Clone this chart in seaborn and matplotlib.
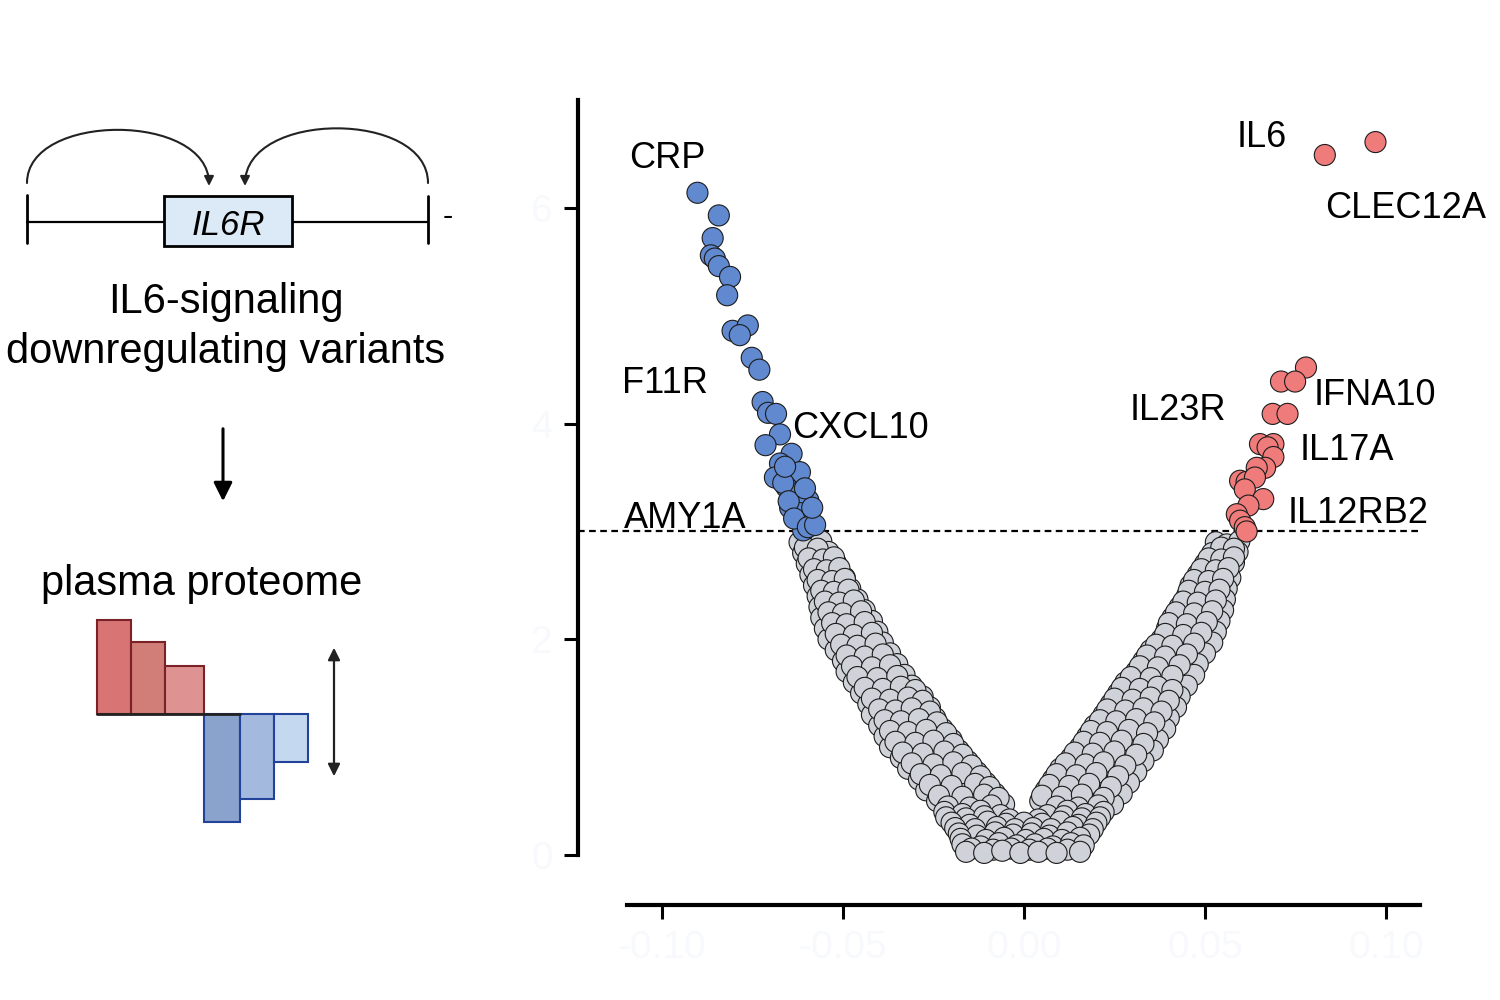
import numpy as np
import pandas as pd
import matplotlib
matplotlib.use("Agg")
import matplotlib.pyplot as plt
from matplotlib.patches import Rectangle, FancyArrowPatch
from matplotlib.path import Path
import seaborn as sns

# --- values (beta, -log10 p) ---
crp_side = [  # significant, negative effect
    (-0.0902, 6.14), (-0.0843, 5.93), (-0.0860, 5.72), (-0.0865, 5.56),
    (-0.0854, 5.53), (-0.0843, 5.46), (-0.0812, 5.36), (-0.0820, 5.19),
    (-0.0805, 4.86), (-0.0763, 4.91), (-0.0785, 4.82), (-0.0752, 4.61),
    (-0.0731, 4.50), (-0.0722, 4.20), (-0.0707, 4.10), (-0.0685, 4.09),
    (-0.0674, 3.90), (-0.0714, 3.80), (-0.0642, 3.72), (-0.0674, 3.63),
    (-0.0619, 3.55), (-0.0688, 3.50), (-0.0656, 3.41), (-0.0637, 3.35),
    (-0.0596, 3.29), (-0.0646, 3.22), (-0.0619, 3.17), (-0.0591, 3.10),
    (-0.0610, 3.01), (-0.0665, 3.45), (-0.0650, 3.28), (-0.0635, 3.12),
    (-0.0605, 3.40), (-0.0660, 3.60), (-0.0597, 3.04), (-0.0577, 3.06),
    (-0.0585, 3.22),
]
il6_side = [  # significant, positive effect
    (0.0831, 6.49), (0.0971, 6.61), (0.0779, 4.52), (0.0710, 4.39),
    (0.0749, 4.39), (0.0687, 4.09), (0.0728, 4.09), (0.0652, 3.81),
    (0.0689, 3.81), (0.0673, 3.78), (0.0689, 3.69), (0.0666, 3.59),
    (0.0643, 3.59), (0.0597, 3.47), (0.0615, 3.46), (0.0638, 3.50),
    (0.0610, 3.39), (0.0661, 3.30), (0.0620, 3.24), (0.0588, 3.16),
    (0.0597, 3.10), (0.0610, 3.04), (0.0615, 3.00),
]
grey_left = [
    (-0.062, 2.90), (-0.059, 2.88), (-0.056, 2.91),
    (-0.061, 2.80), (-0.0575, 2.78), (-0.054, 2.81),
    (-0.060, 2.70), (-0.056, 2.68), (-0.052, 2.71),
    (-0.059, 2.60), (-0.0555, 2.58), (-0.052, 2.61), (-0.0495, 2.57),
    (-0.058, 2.50), (-0.0545, 2.48), (-0.051, 2.51), (-0.048, 2.47),
    (-0.057, 2.40), (-0.0535, 2.38), (-0.0495, 2.41), (-0.046, 2.37),
    (-0.0565, 2.30), (-0.053, 2.28), (-0.0485, 2.31), (-0.044, 2.27),
    (-0.056, 2.20), (-0.052, 2.18), (-0.047, 2.21), (-0.042, 2.17),
    (-0.055, 2.10), (-0.051, 2.08), (-0.0455, 2.11), (-0.0405, 2.07),
    (-0.054, 2.00), (-0.050, 1.98), (-0.0445, 2.01), (-0.039, 1.97),
    (-0.052, 1.90), (-0.048, 1.88), (-0.0425, 1.91), (-0.037, 1.87),
    (-0.050, 1.80), (-0.046, 1.78), (-0.0405, 1.81), (-0.035, 1.77),
    (-0.049, 1.70), (-0.045, 1.68), (-0.039, 1.71), (-0.033, 1.67),
    (-0.047, 1.60), (-0.043, 1.58), (-0.037, 1.61), (-0.031, 1.57),
    (-0.045, 1.50), (-0.041, 1.48), (-0.0365, 1.51), (-0.032, 1.49), (-0.028, 1.47),
    (-0.043, 1.40), (-0.039, 1.38), (-0.0345, 1.41), (-0.030, 1.39), (-0.026, 1.37),
    (-0.042, 1.30), (-0.038, 1.28), (-0.033, 1.31), (-0.0285, 1.29), (-0.0245, 1.27),
    (-0.040, 1.20), (-0.036, 1.18), (-0.031, 1.21), (-0.026, 1.19), (-0.0225, 1.17),
    (-0.0385, 1.10), (-0.034, 1.08), (-0.029, 1.11), (-0.024, 1.09), (-0.020, 1.07),
    (-0.037, 1.00), (-0.032, 0.98), (-0.0265, 1.01), (-0.022, 0.99), (-0.018, 0.97),
    (-0.034, 0.90), (-0.029, 0.88), (-0.024, 0.91), (-0.019, 0.89), (-0.0155, 0.87),
    (-0.032, 0.80), (-0.027, 0.78), (-0.021, 0.81), (-0.0165, 0.79), (-0.013, 0.77),
    (-0.029, 0.70), (-0.024, 0.68), (-0.019, 0.71), (-0.0145, 0.69), (-0.0105, 0.67),
    (-0.027, 0.60), (-0.022, 0.58), (-0.016, 0.61), (-0.0115, 0.59), (-0.008, 0.57),
    (-0.024, 0.50), (-0.019, 0.48), (-0.0135, 0.51), (-0.009, 0.49), (-0.0055, 0.47),
]
grey_left_mid = [
    (-0.0605, 2.85), (-0.057, 2.84),
    (-0.0595, 2.75), (-0.0555, 2.74), (-0.0525, 2.76),
    (-0.058, 2.65), (-0.0545, 2.64), (-0.051, 2.66),
    (-0.057, 2.55), (-0.053, 2.54), (-0.0495, 2.56),
    (-0.056, 2.45), (-0.0525, 2.44), (-0.0485, 2.46),
    (-0.055, 2.35), (-0.051, 2.34), (-0.047, 2.36),
    (-0.054, 2.25), (-0.050, 2.24), (-0.045, 2.26),
    (-0.053, 2.15), (-0.049, 2.14), (-0.044, 2.16),
    (-0.052, 2.05), (-0.047, 2.04), (-0.042, 2.06),
    (-0.0505, 1.95), (-0.046, 1.94), (-0.041, 1.96),
    (-0.049, 1.85), (-0.044, 1.84), (-0.039, 1.86),
    (-0.0475, 1.75), (-0.042, 1.74), (-0.037, 1.76),
    (-0.046, 1.65), (-0.0405, 1.64), (-0.035, 1.66),
    (-0.044, 1.55), (-0.039, 1.54), (-0.034, 1.56), (-0.030, 1.53),
    (-0.042, 1.45), (-0.037, 1.44), (-0.032, 1.46), (-0.028, 1.43),
    (-0.040, 1.35), (-0.0355, 1.34), (-0.031, 1.36), (-0.026, 1.33),
    (-0.0385, 1.25), (-0.034, 1.24), (-0.029, 1.26), (-0.024, 1.23),
    (-0.037, 1.15), (-0.032, 1.14), (-0.027, 1.16), (-0.0215, 1.13),
    (-0.0355, 1.05), (-0.030, 1.04), (-0.025, 1.06), (-0.0195, 1.03),
    (-0.0335, 0.95), (-0.028, 0.94), (-0.022, 0.96), (-0.017, 0.93),
    (-0.031, 0.85), (-0.025, 0.84), (-0.0195, 0.86), (-0.0145, 0.83),
    (-0.0285, 0.75), (-0.023, 0.74), (-0.017, 0.76), (-0.012, 0.73),
    (-0.026, 0.65), (-0.020, 0.64), (-0.0135, 0.66), (-0.0095, 0.63),
    (-0.0235, 0.55), (-0.017, 0.54), (-0.011, 0.56), (-0.007, 0.53),
    (-0.021, 0.45), (-0.015, 0.44), (-0.009, 0.46),
]
grey_right = [
    (0.053, 2.90), (0.056, 2.88), (0.0595, 2.91),
    (0.052, 2.80), (0.0555, 2.78), (0.059, 2.81),
    (0.050, 2.70), (0.054, 2.68), (0.058, 2.71),
    (0.048, 2.60), (0.0515, 2.58), (0.0545, 2.61), (0.057, 2.57),
    (0.046, 2.50), (0.0495, 2.48), (0.053, 2.51), (0.056, 2.47),
    (0.045, 2.40), (0.0485, 2.38), (0.052, 2.41), (0.0555, 2.37),
    (0.043, 2.30), (0.047, 2.28), (0.051, 2.31), (0.055, 2.27),
    (0.041, 2.20), (0.0455, 2.18), (0.050, 2.21), (0.054, 2.17),
    (0.0395, 2.10), (0.044, 2.08), (0.0485, 2.11), (0.053, 2.07),
    (0.038, 2.00), (0.0425, 1.98), (0.047, 2.01), (0.052, 1.97),
    (0.035, 1.90), (0.040, 1.88), (0.045, 1.91), (0.050, 1.87),
    (0.033, 1.80), (0.038, 1.78), (0.043, 1.81), (0.048, 1.77),
    (0.031, 1.70), (0.036, 1.68), (0.0415, 1.71), (0.047, 1.67),
    (0.028, 1.60), (0.0335, 1.58), (0.039, 1.61), (0.045, 1.57),
    (0.026, 1.50), (0.030, 1.48), (0.0345, 1.51), (0.039, 1.49), (0.043, 1.47),
    (0.024, 1.40), (0.0285, 1.38), (0.033, 1.41), (0.037, 1.39), (0.042, 1.37),
    (0.022, 1.30), (0.026, 1.28), (0.030, 1.31), (0.035, 1.29), (0.040, 1.27),
    (0.0195, 1.20), (0.024, 1.18), (0.028, 1.21), (0.0335, 1.19), (0.039, 1.17),
    (0.0175, 1.10), (0.022, 1.08), (0.026, 1.11), (0.0315, 1.09), (0.037, 1.07),
    (0.0155, 1.00), (0.020, 0.98), (0.024, 1.01), (0.030, 0.99), (0.0356, 0.97),
    (0.013, 0.90), (0.0175, 0.88), (0.0215, 0.91), (0.027, 0.89), (0.033, 0.87),
    (0.010, 0.80), (0.0145, 0.78), (0.019, 0.81), (0.025, 0.79), (0.031, 0.77),
    (0.008, 0.70), (0.012, 0.68), (0.017, 0.71), (0.023, 0.69), (0.029, 0.67),
    (0.006, 0.60), (0.010, 0.58), (0.015, 0.61), (0.021, 0.59), (0.027, 0.57),
    (0.0045, 0.50), (0.0085, 0.48), (0.013, 0.51), (0.019, 0.49), (0.0246, 0.47),
]
grey_right_mid = [
    (0.0545, 2.85), (0.058, 2.84),
    (0.051, 2.75), (0.0545, 2.74), (0.058, 2.76),
    (0.049, 2.65), (0.053, 2.64), (0.0565, 2.66),
    (0.047, 2.55), (0.051, 2.54), (0.055, 2.56),
    (0.0455, 2.45), (0.050, 2.44), (0.054, 2.46),
    (0.044, 2.35), (0.048, 2.34), (0.053, 2.36),
    (0.042, 2.25), (0.047, 2.24), (0.052, 2.26),
    (0.040, 2.15), (0.045, 2.14), (0.0505, 2.16),
    (0.039, 2.05), (0.044, 2.04), (0.049, 2.06),
    (0.0365, 1.95), (0.041, 1.94), (0.047, 1.96),
    (0.034, 1.85), (0.039, 1.84), (0.045, 1.86),
    (0.032, 1.75), (0.037, 1.74), (0.043, 1.76),
    (0.0295, 1.65), (0.035, 1.64), (0.041, 1.66),
    (0.027, 1.55), (0.032, 1.54), (0.037, 1.56), (0.041, 1.53),
    (0.025, 1.45), (0.030, 1.44), (0.035, 1.46), (0.040, 1.43),
    (0.023, 1.35), (0.028, 1.34), (0.033, 1.36), (0.038, 1.33),
    (0.021, 1.25), (0.0255, 1.24), (0.031, 1.26), (0.036, 1.23),
    (0.0185, 1.15), (0.023, 1.14), (0.029, 1.16), (0.034, 1.13),
    (0.0165, 1.05), (0.021, 1.04), (0.027, 1.06), (0.033, 1.03),
    (0.014, 0.95), (0.019, 0.94), (0.025, 0.96), (0.031, 0.93),
    (0.0115, 0.85), (0.017, 0.84), (0.022, 0.86), (0.028, 0.83),
    (0.009, 0.75), (0.0145, 0.74), (0.020, 0.76), (0.026, 0.73),
    (0.007, 0.65), (0.0125, 0.64), (0.018, 0.66), (0.024, 0.63),
    (0.005, 0.55), (0.0105, 0.54), (0.016, 0.56), (0.022, 0.53),
    (0.009, 0.45), (0.015, 0.44), (0.0205, 0.46),
]
grey_bottom = [
    (-0.022, 0.40), (-0.017, 0.38), (-0.012, 0.41), (-0.0065, 0.37),
    (0.0065, 0.37), (0.012, 0.41), (0.017, 0.38), (0.022, 0.40),
    (-0.0215, 0.35), (-0.016, 0.34), (-0.011, 0.36), (-0.004, 0.33),
    (0.004, 0.33), (0.011, 0.36), (0.016, 0.34), (0.021, 0.35),
    (-0.020, 0.30), (-0.015, 0.28), (-0.010, 0.31), (-0.005, 0.29), (0.000, 0.30),
    (0.005, 0.29), (0.010, 0.31), (0.015, 0.28), (0.020, 0.30),
    (-0.019, 0.25), (-0.0135, 0.24), (-0.0075, 0.26), (-0.0025, 0.24),
    (0.0025, 0.25), (0.0075, 0.24), (0.0135, 0.26), (0.019, 0.24),
    (-0.018, 0.20), (-0.013, 0.18), (-0.008, 0.21), (-0.003, 0.19),
    (0.002, 0.20), (0.007, 0.18), (0.012, 0.21), (0.018, 0.19),
    (-0.0175, 0.15), (-0.0105, 0.14), (-0.0055, 0.16), (0.0005, 0.14),
    (0.0055, 0.15), (0.0105, 0.14), (0.0155, 0.16),
    (-0.017, 0.10), (-0.012, 0.08), (-0.007, 0.11), (-0.002, 0.09),
    (0.003, 0.10), (0.008, 0.08), (0.013, 0.11), (0.0165, 0.09),
    (-0.0145, 0.06), (-0.0085, 0.05), (-0.0035, 0.06), (0.0015, 0.05),
    (0.0065, 0.06), (0.012, 0.05),
    (-0.016, 0.03), (-0.011, 0.02), (-0.006, 0.04), (-0.001, 0.02),
    (0.004, 0.03), (0.009, 0.02), (0.0155, 0.03),
]
gene_labels = ["CRP", "F11R", "CXCL10", "AMY1A", "IL6", "CLEC12A",
               "IFNA10", "IL23R", "IL17A", "IL12RB2"]
sig_threshold = 3.0
x_ticks = [-0.10, -0.05, 0.00, 0.05, 0.10]
y_ticks = [0, 2, 4, 6]

# schematic bar heights (pixels, up = positive)
up_bars = [94, 72, 48]
down_bars = [-108, -85, -48]

# label anchor positions (left / baseline)
label_pos = {
    "CRP": (-0.1091, 6.37), "F11R": (-0.1110, 4.28), "CXCL10": (-0.0641, 3.87),
    "AMY1A": (-0.1105, 3.03), "IL6": (0.0588, 6.56), "CLEC12A": (0.0831, 5.91),
    "IFNA10": (0.0801, 4.17), "IL23R": (0.0293, 4.03), "IL17A": (0.0762, 3.66),
    "IL12RB2": (0.0727, 3.08),
}

grey_pts = grey_left + grey_left_mid + grey_right + grey_right_mid + grey_bottom
frames = []
for name, pts in [("ns", grey_pts), ("down", crp_side), ("up", il6_side)]:
    d = pd.DataFrame(pts, columns=["beta", "logp"])
    d["group"] = name
    frames.append(d)
df = pd.concat(frames, ignore_index=True)

sns.set_theme(style="ticks")
plt.rcParams['font.family'] = ['Liberation Sans', 'DejaVu Sans']
plt.rcParams['text.color'] = 'black'
plt.rcParams['axes.edgecolor'] = 'black'

fig = plt.figure(figsize=(15, 10), dpi=100)

# --- left schematic, drawn in pixel coordinates ---
sk = fig.add_axes([0, 0, 1, 1])
sk.set_xlim(0, 1500)
sk.set_ylim(1000, 0)
sk.axis('off')

sk.plot([27, 428], [222, 222], color='black', lw=1.6)
sk.plot([27, 27], [195, 243], color='black', lw=2)
sk.plot([428, 428], [196, 243], color='black', lw=2)
sk.add_patch(Rectangle((164, 196), 128, 50, facecolor='#dce9f6',
                       edgecolor='black', lw=2, zorder=3))
sk.text(228, 235, "IL6R", style='italic', fontsize=25, ha='center',
        va='baseline', zorder=4)
sk.text(448, 225, "-", fontsize=22, ha='center', va='baseline')

for p0, c1, c2, p3 in [((27, 183), (27, 112), (209, 112), (209, 186)),
                       ((428, 183), (428, 110), (245, 110), (245, 186))]:
    arc = Path([p0, c1, c2, p3], [Path.MOVETO, Path.CURVE4, Path.CURVE4, Path.CURVE4])
    sk.add_patch(FancyArrowPatch(path=arc, arrowstyle='-|>', mutation_scale=14,
                                 color='#222222', lw=1.5))

sk.text(226, 313, "IL6-signaling", fontsize=30, ha='center', va='baseline')
sk.text(226, 363, "downregulating variants", fontsize=30, ha='center', va='baseline')
sk.annotate("", xy=(223, 504), xytext=(223, 426),
            arrowprops=dict(arrowstyle='-|>', color='black', lw=2.2,
                            mutation_scale=28))
sk.text(202, 595, "plasma proteome", fontsize=30, ha='center', va='baseline')

sk.bar([97, 131, 165], [-h for h in up_bars], width=[34, 34, 39], bottom=714,
       align='edge', color=['#d87474', '#d27e78', '#de9291'],
       edgecolor='#7a2228', lw=1.5)
sk.bar([204, 240, 274], [-h for h in down_bars], width=[36, 34, 34], bottom=714,
       align='edge', color=['#8aa3cc', '#a3b9dd', '#c4d9ef'],
       edgecolor='#23439a', lw=1.5)
sk.plot([97, 240], [714, 714], color='#222222', lw=2)
sk.annotate("", xy=(334, 645), xytext=(334, 779),
            arrowprops=dict(arrowstyle='<|-|>', color='#222222', lw=1.6,
                            mutation_scale=18))

# --- volcano plot ---
ax = fig.add_axes([578 / 1500, 95 / 1000, 842 / 1500, 805 / 1000])
ax.patch.set_alpha(0)
palette = {"ns": "#cfd2d8", "down": "#6089cf", "up": "#f07b7b"}
sns.scatterplot(data=df, x="beta", y="logp", hue="group", palette=palette,
                s=230, edgecolor='#1c1c1c', linewidth=0.8, legend=False,
                ax=ax, zorder=2)
ax.axhline(sig_threshold, color='black', lw=1.6, ls=(0, (3, 2)), zorder=1)

for g in gene_labels:
    lx, ly = label_pos[g]
    ax.text(lx, ly, g, fontsize=26, ha='left', va='baseline', color='black')

ax.set_xlim(-0.1232, 0.1094)
ax.set_ylim(-0.463, 7.0)
sns.despine(ax=ax)
ax.spines['left'].set_bounds(0, 7)
ax.spines['bottom'].set_bounds(-0.1097, 0.1094)
for s in ['left', 'bottom']:
    ax.spines[s].set_linewidth(3)
    ax.spines[s].set_color('black')
ax.set_xticks(x_ticks)
ax.set_xticklabels([f"{v:.2f}" for v in x_ticks])
ax.set_yticks(y_ticks)
ax.set_yticklabels([str(v) for v in y_ticks])
ax.tick_params(axis='both', length=10, width=2.2, color='black',
               labelsize=28, labelcolor='#f7f9fc', pad=8)
ax.set_xlabel("")
ax.set_ylabel("")

fig.savefig("out.png", dpi=100)
